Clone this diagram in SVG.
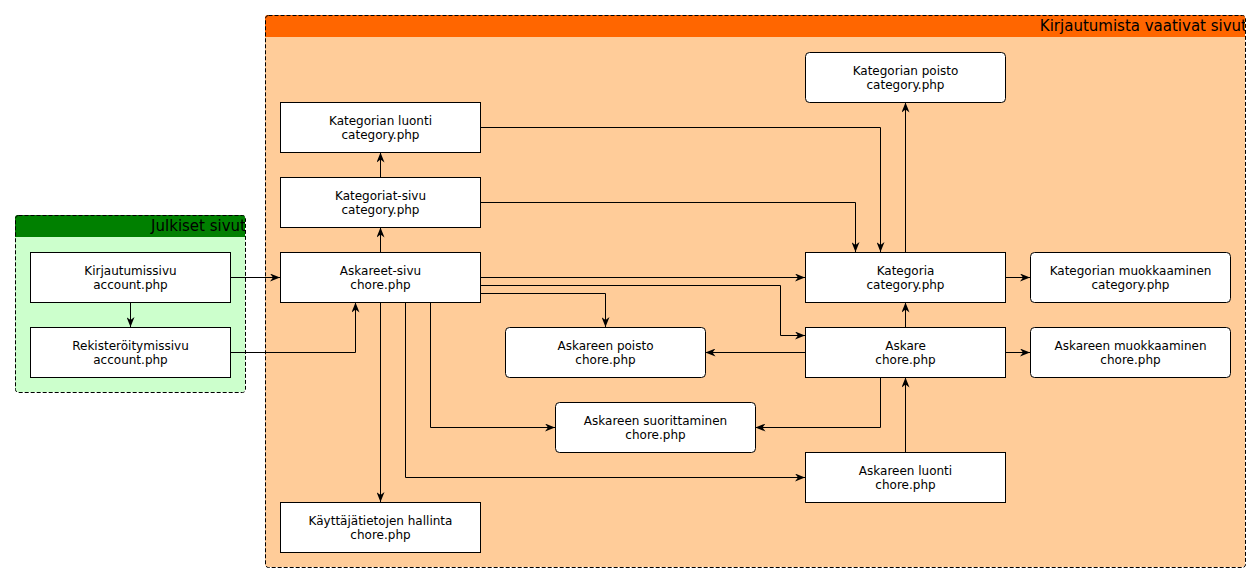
<svg xmlns="http://www.w3.org/2000/svg" width="1260" height="582" viewBox="0 0 1260 582">
  <style>
    .grp { stroke: #000; stroke-width: 1; stroke-dasharray: 4 2; }
    .node rect { fill: #fff; stroke: #000; stroke-width: 1; }
    .node text, .title { font-family: "DejaVu Sans", sans-serif; fill: #000; }
    .node text { font-size: 12px; text-anchor: middle; }
    .title { font-size: 15px; text-anchor: end; }
    .edges path { fill: none; stroke: #000; stroke-width: 1; marker-end: url(#arrow); }
  </style>
  <defs>
    <marker id="arrow" viewBox="0 0 10 8" refX="10" refY="4" markerWidth="10" markerHeight="8" markerUnits="userSpaceOnUse" orient="auto">
      <path d="M0,0 L10,4 L0,8 L3,4 Z" fill="#000"/>
    </marker>
    <clipPath id="clipPrivate"><rect x="265" y="15" width="980" height="552" rx="3"/></clipPath>
    <clipPath id="clipPublic"><rect x="15" y="215" width="230" height="177" rx="3"/></clipPath>
  </defs>

  <!-- Public pages group -->
  <g id="group-public">
    <g clip-path="url(#clipPublic)">
      <rect x="15" y="215" width="230" height="177" fill="#CCFFCC"/>
      <rect x="15" y="215" width="230" height="22" fill="#008000"/>
      <text class="title" x="246" y="231">Julkiset sivut</text>
    </g>
    <rect class="grp" x="15.5" y="215.5" width="230" height="177" rx="3" fill="none"/>
  </g>

  <!-- Login-required pages group -->
  <g id="group-private">
    <g clip-path="url(#clipPrivate)">
      <rect x="265" y="15" width="980" height="552" fill="#FFCC99"/>
      <rect x="265" y="15" width="980" height="22" fill="#FF6600"/>
      <text class="title" x="1247" y="31">Kirjautumista vaativat sivut</text>
    </g>
    <rect class="grp" x="265.5" y="15.5" width="980" height="552" rx="3" fill="none"/>
  </g>

  <!-- Connectors -->
  <g id="edges" class="edges">
    <path d="M230.5,277.5 H280"/>
    <path d="M130.5,302.5 V327"/>
    <path d="M230.5,352.5 H355.5 V302.5"/>
    <path d="M380.5,252.5 V227.5"/>
    <path d="M380.5,177.5 V152.5"/>
    <path d="M480.5,127.5 H880.5 V252"/>
    <path d="M480.5,202.5 H855.5 V252"/>
    <path d="M480.5,277.5 H805"/>
    <path d="M480.5,285.5 H780.5 V335.5 H805"/>
    <path d="M480.5,293.5 H605.5 V327"/>
    <path d="M380.5,302.5 V502"/>
    <path d="M430.5,302.5 V427.5 H555"/>
    <path d="M405.5,302.5 V477.5 H805"/>
    <path d="M905.5,252.5 V102.5"/>
    <path d="M1005.5,277.5 H1030"/>
    <path d="M905.5,327.5 V302.5"/>
    <path d="M1005.5,352.5 H1030"/>
    <path d="M805.5,352.5 H705.5"/>
    <path d="M880.5,377.5 V427.5 H755.5"/>
    <path d="M905.5,452.5 V377.5"/>
  </g>

  <!-- Nodes -->
  <g id="n-kirjautumissivu" class="node">
    <rect x="30.5" y="252.5" width="200" height="50"/>
    <text x="130.5" y="274.5">Kirjautumissivu</text>
    <text x="130.5" y="288.5">account.php</text>
  </g>
  <g id="n-rekisteroitymissivu" class="node">
    <rect x="30.5" y="327.5" width="200" height="50"/>
    <text x="130.5" y="349.5">Rekisteröitymissivu</text>
    <text x="130.5" y="363.5">account.php</text>
  </g>
  <g id="n-kategorian-luonti" class="node">
    <rect x="280.5" y="102.5" width="200" height="50"/>
    <text x="380.5" y="124.5">Kategorian luonti</text>
    <text x="380.5" y="138.5">category.php</text>
  </g>
  <g id="n-kategoriat-sivu" class="node">
    <rect x="280.5" y="177.5" width="200" height="50"/>
    <text x="380.5" y="199.5">Kategoriat-sivu</text>
    <text x="380.5" y="213.5">category.php</text>
  </g>
  <g id="n-askareet-sivu" class="node">
    <rect x="280.5" y="252.5" width="200" height="50"/>
    <text x="380.5" y="274.5">Askareet-sivu</text>
    <text x="380.5" y="288.5">chore.php</text>
  </g>
  <g id="n-kayttajatiedot" class="node">
    <rect x="280.5" y="502.5" width="200" height="50"/>
    <text x="380.5" y="524.5">Käyttäjätietojen hallinta</text>
    <text x="380.5" y="538.5">chore.php</text>
  </g>
  <g id="n-kategorian-poisto" class="node">
    <rect x="805.5" y="52.5" width="200" height="50" rx="4"/>
    <text x="905.5" y="74.5">Kategorian poisto</text>
    <text x="905.5" y="88.5">category.php</text>
  </g>
  <g id="n-kategoria" class="node">
    <rect x="805.5" y="252.5" width="200" height="50"/>
    <text x="905.5" y="274.5">Kategoria</text>
    <text x="905.5" y="288.5">category.php</text>
  </g>
  <g id="n-kategorian-muokkaaminen" class="node">
    <rect x="1030.5" y="252.5" width="200" height="50" rx="4"/>
    <text x="1130.5" y="274.5">Kategorian muokkaaminen</text>
    <text x="1130.5" y="288.5">category.php</text>
  </g>
  <g id="n-askareen-poisto" class="node">
    <rect x="505.5" y="327.5" width="200" height="50" rx="4"/>
    <text x="605.5" y="349.5">Askareen poisto</text>
    <text x="605.5" y="363.5">chore.php</text>
  </g>
  <g id="n-askare" class="node">
    <rect x="805.5" y="327.5" width="200" height="50"/>
    <text x="905.5" y="349.5">Askare</text>
    <text x="905.5" y="363.5">chore.php</text>
  </g>
  <g id="n-askareen-muokkaaminen" class="node">
    <rect x="1030.5" y="327.5" width="200" height="50" rx="4"/>
    <text x="1130.5" y="349.5">Askareen muokkaaminen</text>
    <text x="1130.5" y="363.5">chore.php</text>
  </g>
  <g id="n-askareen-suorittaminen" class="node">
    <rect x="555.5" y="402.5" width="200" height="50" rx="4"/>
    <text x="655.5" y="424.5">Askareen suorittaminen</text>
    <text x="655.5" y="438.5">chore.php</text>
  </g>
  <g id="n-askareen-luonti" class="node">
    <rect x="805.5" y="452.5" width="200" height="50"/>
    <text x="905.5" y="474.5">Askareen luonti</text>
    <text x="905.5" y="488.5">chore.php</text>
  </g>
</svg>
